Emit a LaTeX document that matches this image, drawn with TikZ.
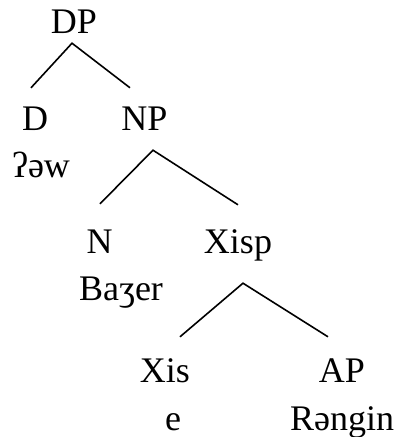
\documentclass[tikz,border=0pt]{standalone}
\usepackage{fontspec}
\setmainfont{Liberation Serif}[Ligatures=TeX]
\usetikzlibrary{calc}

\begin{document}
\begin{tikzpicture}[x=1pt, y=-1pt]
    \tikzstyle{cat} = [anchor=base, inner sep=0pt, text height=24pt, text depth=0pt, font=\rmfamily\fontsize{36}{43}\selectfont]
    \tikzstyle{word} = [anchor=base, inner sep=0pt, font=\rmfamily\fontsize{36}{43}\selectfont]
    \tikzstyle{branch} = [line width=1.6pt]

    \useasboundingbox (0,0) rectangle (398,437);

    \node[cat] (dp) at (74,33) {DP};
    \node[cat] (d) at (35,130) {D};
    \node[cat] (np) at (144.5,130) {NP};
    \node[word] (wd) at (41,177) {ʔəw};
    \node[cat] (n) at (99.5,253) {N};
    \node[cat] (xisp) at (238,253) {Xisp};
    \node[word] (wn) at (121,300) {Baʒer};
    \node[cat] (xis) at (165,382) {Xis};
    \node[cat] (ap) at (342,382) {AP};
    \node[word] (wxis) at (173,430) {e};
    \node[word] (wap) at (342,430) {Rəngin};

    \draw[branch] ($(d.north)+(-4,-18)$) -- ($(dp.south)+(-2,10)$) -- ($(np.north)+(-14.5,-18)$);
    \draw[branch] ($(n.north)+(0.5,-25)$) -- ($(np.south)+(8.5,20)$) -- ($(xisp.north)+(0,-24)$);
    \draw[branch] ($(xis.north)+(15,-21)$) -- ($(xisp.south)+(5,30)$) -- ($(ap.north)+(-14,-21)$);
\end{tikzpicture}
\end{document}
